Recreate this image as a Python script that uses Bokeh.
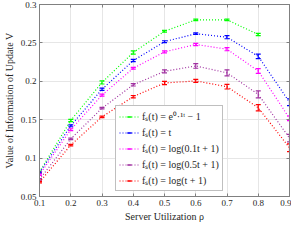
import math
from bokeh.plotting import figure
from bokeh.models import (ColumnDataSource, Whisker, TeeHead, Range1d, FixedTicker,
                          Legend, LegendItem, LinearAxis, CustomJSTickFormatter)
from bokeh.embed import file_html
from bokeh.resources import INLINE

rho = [0.1, 0.2, 0.3, 0.4, 0.5, 0.6, 0.7, 0.8, 0.9]

v_exp = [0.082, 0.149, 0.1985, 0.2375, 0.2652, 0.280, 0.280, 0.261]
v_lin = [0.081, 0.142, 0.1896, 0.227, 0.2516, 0.262, 0.2574, 0.2325, 0.1728]
v_log01 = [0.0784, 0.137, 0.182, 0.217, 0.2383, 0.248, 0.2418, 0.2134, 0.1518]
v_log05 = [0.0722, 0.125, 0.165, 0.1954, 0.213, 0.220, 0.211, 0.183, 0.126]
v_log1 = [0.0687, 0.117, 0.1537, 0.180, 0.1978, 0.2005, 0.193, 0.1655, 0.1135]

e_exp = [0.001, 0.0015, 0.002, 0.002, 0.0012, 0.001, 0.001, 0.0015]
e_lin = [0.001, 0.0012, 0.0015, 0.0015, 0.0012, 0.001, 0.002, 0.003, 0.0045]
e_log01 = [0.001, 0.0012, 0.0012, 0.0012, 0.0012, 0.0015, 0.002, 0.003, 0.003]
e_log05 = [0.001, 0.001, 0.001, 0.0015, 0.002, 0.003, 0.004, 0.0045, 0.005]
e_log1 = [0.001, 0.001, 0.001, 0.0015, 0.002, 0.002, 0.003, 0.004, 0.005]

labels = ["fₛ(t) = e⁰·¹ᵗ − 1", "fₛ(t) = t", "fₛ(t) = log(0.1t + 1)",
          "fₛ(t) = log(0.5t + 1)", "fₛ(t) = log(t + 1)"]
colors = ["#00ff00", "#0000ff", "#ff00ff", "#a030a0", "#ff0000"]

x_ticks = [0.1, 0.2, 0.3, 0.4, 0.5, 0.6, 0.7, 0.8, 0.9]
x_tick_labels = ["0.1", "0.2", "0.3", "0.4", "0.5", "0.6", "0.7", "0.8", "0.9"]
y_ticks = [0.05, 0.1, 0.15, 0.2, 0.25, 0.3]
y_tick_labels = ["0.05", "0.1", "0.15", "0.2", "0.25", "0.3"]

FONT = "Liberation Serif"

p = figure(width=291, height=224, output_backend="svg", toolbar_location=None,
           x_range=Range1d(0.1, 0.9), y_range=Range1d(0.05, 0.3),
           min_border_left=4, min_border_right=2, min_border_top=4, min_border_bottom=2)
# a range that maps the legend-only glyphs outside the frame, so they are clipped
p.extra_y_ranges = {"legend_only": Range1d(10, 11)}
p.background_fill_color = "white"
p.outline_line_color = "#808080"
p.outline_line_width = 1

for ax, ticks, tl in ((p.xaxis[0], x_ticks, x_tick_labels), (p.yaxis[0], y_ticks, y_tick_labels)):
    ax.ticker = FixedTicker(ticks=ticks)
    ax.major_label_overrides = {t: l for t, l in zip(ticks, tl)}
    ax.major_label_text_font = FONT
    ax.major_label_text_font_size = "9px"
    ax.major_label_text_color = "#262626"
    ax.axis_line_color = "#808080"
    ax.major_tick_line_color = "#808080"
    ax.major_tick_in = 3
    ax.major_tick_out = 0
    ax.minor_tick_line_color = None
    ax.axis_label_text_font = FONT
    ax.axis_label_text_font_style = "normal"
    ax.axis_label_text_font_size = "10px"
    ax.axis_label_text_color = "#262626"
    ax.major_label_standoff = 3

p.xaxis.axis_label = "Server Utilization ρ"
p.yaxis.axis_label = "Value of Information of Update V"
p.xaxis.axis_label_standoff = 2
p.yaxis.axis_label_standoff = 3

for loc, ticks in (("above", x_ticks), ("right", y_ticks)):
    a = LinearAxis(ticker=FixedTicker(ticks=ticks),
                   formatter=CustomJSTickFormatter(code="return ''"),
                   axis_line_color="#808080", major_tick_line_color="#808080",
                   major_tick_in=3, major_tick_out=0, minor_tick_line_color=None,
                   major_label_standoff=0, axis_label_standoff=0)
    p.add_layout(a, loc)

p.grid.grid_line_color = "#e6e6e6"
p.grid.grid_line_width = 1
p.xgrid.ticker = FixedTicker(ticks=x_ticks)
p.ygrid.ticker = FixedTicker(ticks=y_ticks)

series = [v_exp, v_lin, v_log01, v_log05, v_log1]
errs = [e_exp, e_lin, e_log01, e_log05, e_log1]
items = []
for vals, err, col, lab in zip(series, errs, colors, labels):
    xs = rho[:len(vals)]
    src = ColumnDataSource(dict(x=xs, y=vals,
                                lo=[v - e for v, e in zip(vals, err)],
                                hi=[v + e for v, e in zip(vals, err)]))
    ln = p.line("x", "y", source=src, line_color=col, line_dash="1 2", line_width=1.2)
    w = Whisker(base="x", lower="lo", upper="hi", source=src, line_color=col, line_width=1.2,
                lower_head=TeeHead(size=5, line_color=col, line_width=1.2),
                upper_head=TeeHead(size=5, line_color=col, line_width=1.2))
    p.add_layout(w)
    # legend-only glyph (vertical error-bar mark); mapped outside the frame so it is clipped
    mk = p.scatter("x", "y", source=src, y_range_name="legend_only",
                   marker="dash", angle=math.pi / 2, size=10,
                   line_color=col, line_width=1.5)
    items.append(LegendItem(label=lab, renderers=[ln, mk]))

legend = Legend(items=items, location=(76, 5))
legend.label_text_font = FONT
legend.label_text_font_size = "10px"
legend.label_text_color = "#262626"
legend.label_height = 11
legend.glyph_height = 11
legend.glyph_width = 20
legend.spacing = 2
legend.padding = 3
legend.margin = 0
legend.label_standoff = 3
legend.border_line_color = "#808080"
legend.background_fill_color = "white"
legend.background_fill_alpha = 1.0
p.add_layout(legend, "center")

open("out.html", "w").write(file_html(p, INLINE))
